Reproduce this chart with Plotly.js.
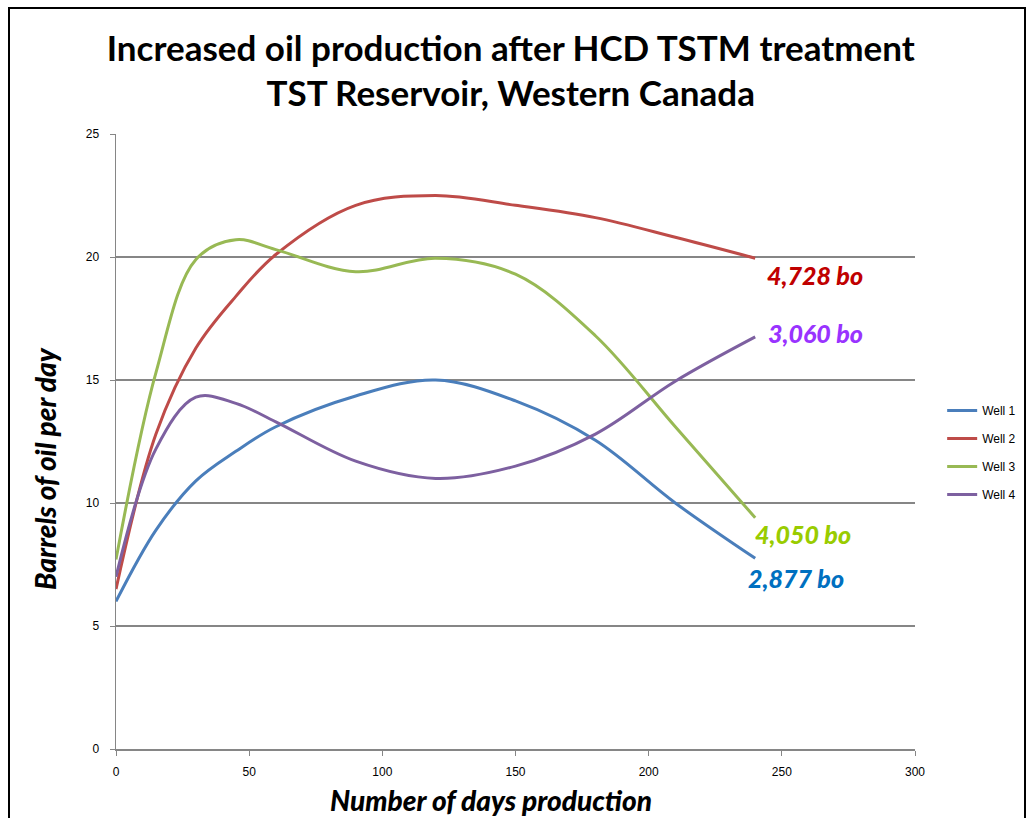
<!DOCTYPE html>
<html><head><meta charset="utf-8">
<script src="https://cdn.plot.ly/plotly-3.0.1.min.js"></script>
<style>
html,body{margin:0;padding:0;background:#fff;overflow:hidden}
#frame{position:absolute;left:8px;top:7px;width:1014px;height:830px;border:2px solid #000}
#chart{width:1014px;height:830px}
</style></head><body>
<div id="frame"><div id="chart"></div></div>
<script>
const days = [0, 15, 30, 45, 60, 90, 120, 150, 180, 210, 240];
const well1 = [6.0, 8.9, 10.9, 12.1, 13.1, 14.35, 15.0, 14.15, 12.55, 10.0, 7.75];
const well2 = [6.5, 12.8, 16.3, 18.4, 20.1, 22.1, 22.5, 22.1, 21.6, 20.8, 19.95];
const well3 = [7.7, 15.3, 19.9, 20.7, 20.3, 19.4, 19.95, 19.3, 16.8, 13.1, 9.4];
const well4 = [7.0, 12.2, 14.3, 14.05, 13.3, 11.7, 11.0, 11.5, 12.8, 14.95, 16.75];
const seriesNames = ['Well 1', 'Well 2', 'Well 3', 'Well 4'];
const totals = ['2,877 bo', '4,728 bo', '4,050 bo', '3,060 bo'];

const lineColors = ['#4A7EBB', '#BE4B48', '#98B954', '#7D60A0'];
const labelColors = ['#0070C0', '#C00000', '#99CC00', '#9933FF'];
const labelPos = [[236.5, 6.95], [243.5, 19.27], [239, 8.74], [244, 16.9]];
const seriesData = [well1, well2, well3, well4];

const traces = seriesData.map((ys, i) => ({
  x: days, y: ys, name: seriesNames[i], type: 'scatter', mode: 'lines',
  line: {color: lineColors[i], width: 3, shape: 'spline', smoothing: 1},
  legendgroup: 'g' + i
}));

const heavy = (c, s) => ({family: 'Lato, sans-serif', size: s, color: c, weight: 900, style: 'italic'});

const annotations = totals.map((t, i) => ({
  x: labelPos[i][0], y: labelPos[i][1], xref: 'x', yref: 'y', text: t,
  showarrow: false, xanchor: 'left', yanchor: 'middle', font: heavy(labelColors[i], 25)
}));
annotations.push({
  xref: 'paper', yref: 'paper', x: -0.0889, y: 0.457, textangle: -90, showarrow: false,
  text: 'Barrels of oil per day', xanchor: 'center', yanchor: 'middle',
  font: heavy('#000', 28)
});
annotations.push({
  xref: 'paper', yref: 'paper', x: 0.469, y: -0.083, showarrow: false,
  text: 'Number of days production', xanchor: 'center', yanchor: 'middle',
  font: heavy('#000', 28)
});

const layout = {
  width: 1014, height: 830,
  margin: {l: 106, r: 109, t: 125, b: 90, autoexpand: false},
  paper_bgcolor: '#fff', plot_bgcolor: '#fff',
  title: {
    text: 'Increased oil production after HCD TSTM treatment<br>TST Reservoir, Western Canada',
    font: {family: 'Lato, sans-serif', size: 35, color: '#000', weight: 'bold'},
    x: 0.494, xref: 'paper', xanchor: 'center',
    y: 0.9375, yref: 'container', yanchor: 'top'
  },
  xaxis: {
    range: [0, 300], dtick: 50, tick0: 0, showgrid: false, zeroline: false,
    showline: true, linecolor: '#868686', linewidth: 1.5,
    ticks: 'outside', ticklen: 5, tickcolor: '#868686', ticklabelstandoff: 6,
    tickfont: {family: 'Liberation Sans, sans-serif', size: 12, color: '#000'}
  },
  yaxis: {
    range: [0, 25], dtick: 5, tick0: 0, showgrid: true, gridcolor: '#868686', gridwidth: 1.2,
    zeroline: false, showline: true, linecolor: '#868686', linewidth: 1.5,
    ticks: 'outside', ticklen: 5, tickcolor: '#868686', ticklabelstandoff: 8,
    tickfont: {family: 'Liberation Sans, sans-serif', size: 12, color: '#000'}
  },
  legend: {
    x: 1.034, y: 0.574, xanchor: 'left', yanchor: 'top',
    font: {family: 'Liberation Sans, sans-serif', size: 12, color: '#000'},
    tracegroupgap: 9, traceorder: 'grouped', bgcolor: 'rgba(0,0,0,0)'
  },
  annotations: annotations,
  showlegend: true
};

Plotly.newPlot('chart', traces, layout, {displayModeBar: false, staticPlot: true});
</script>
</body></html>
